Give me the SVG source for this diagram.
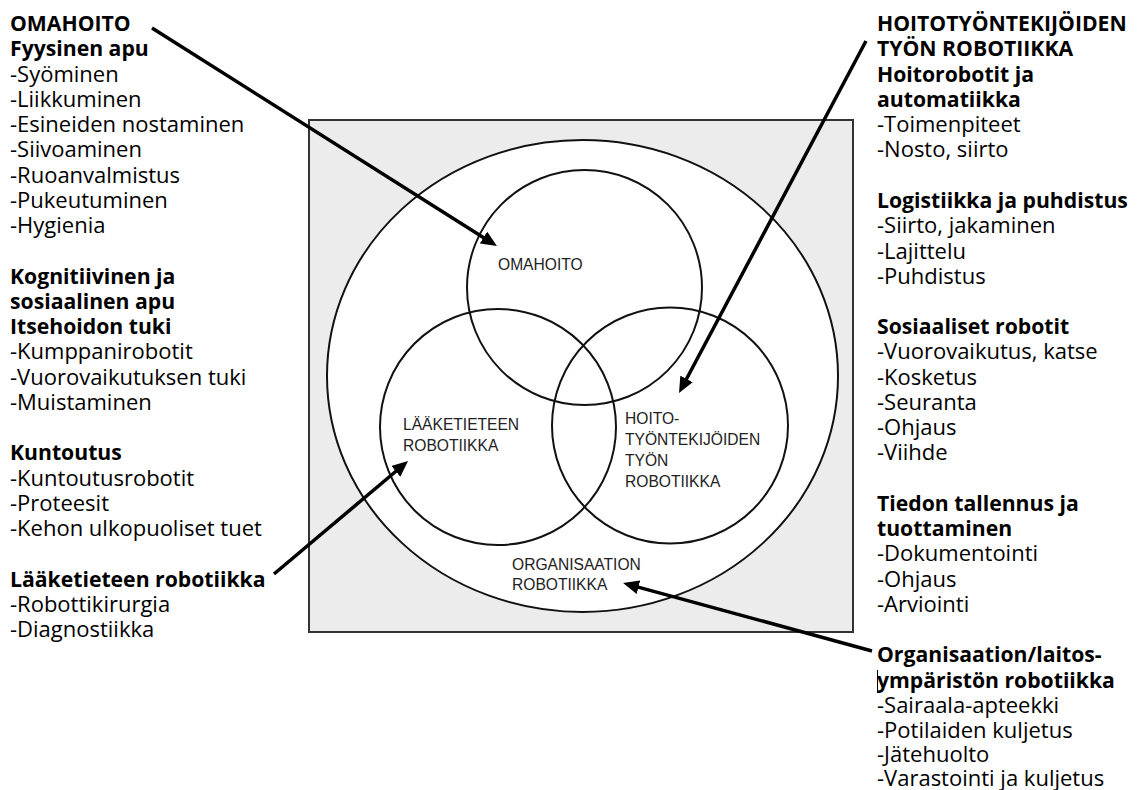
<svg xmlns="http://www.w3.org/2000/svg" width="1137" height="790" viewBox="0 0 1137 790">
<style>
.t{font-family:"Open Sans","Liberation Sans",sans-serif;font-size:22px;fill:#000}
.b{font-weight:bold;font-size:21.2px}
.in{font-family:"Liberation Sans",Arial,sans-serif;font-size:15.6px;fill:#222}
.c{fill:none;stroke:#111;stroke-width:2}
.a{fill:none;stroke:#000;stroke-width:3.5;marker-end:url(#ah)}
</style>
<defs>
<marker id="ah" markerUnits="userSpaceOnUse" markerWidth="18" markerHeight="14" refX="6" refY="7" orient="auto">
<path d="M0,0 L16,7 L0,14 z" fill="#000"/>
</marker>
</defs>
<rect width="1137" height="790" fill="#fff"/>
<g id="frame">
<rect x="309" y="120" width="544" height="512" fill="#ececec" stroke="#333" stroke-width="2"/>
</g>
<g id="organisaatio">
<ellipse cx="582.5" cy="376" rx="255.5" ry="236" fill="#fff" stroke="#111" stroke-width="2"/>
<text class="in" x="512" y="570">ORGANISAATION</text>
<text class="in" x="512" y="590">ROBOTIIKKA</text>
</g>
<g id="omahoito">
<circle class="c" cx="584.5" cy="287.5" r="117.5"/>
<text class="in" x="498" y="270">OMAHOITO</text>
</g>
<g id="laaketiede">
<circle class="c" cx="498" cy="427" r="118"/>
<text class="in" x="403" y="430">LÄÄKETIETEEN</text>
<text class="in" x="403" y="451">ROBOTIIKKA</text>
</g>
<g id="hoitotyo">
<circle class="c" cx="670" cy="425.5" r="118"/>
<text class="in" x="625" y="424">HOITO-</text>
<text class="in" x="625" y="445">TYÖNTEKIJÖIDEN</text>
<text class="in" x="625" y="466">TYÖN</text>
<text class="in" x="625" y="487">ROBOTIIKKA</text>
</g>
<g id="left-text">
<text class="t b" x="10" y="31">OMAHOITO</text>
<text class="t b" x="10" y="56">Fyysinen apu</text>
<text class="t" x="10" y="81.5">-Syöminen</text>
<text class="t" x="10" y="107">-Liikkuminen</text>
<text class="t" x="10" y="132">-Esineiden nostaminen</text>
<text class="t" x="10" y="157">-Siivoaminen</text>
<text class="t" x="10" y="182.5">-Ruoanvalmistus</text>
<text class="t" x="10" y="208">-Pukeutuminen</text>
<text class="t" x="10" y="233">-Hygienia</text>
<text class="t b" x="10" y="283.5">Kognitiivinen ja</text>
<text class="t b" x="10" y="309">sosiaalinen apu</text>
<text class="t b" x="10" y="334">Itsehoidon tuki</text>
<text class="t" x="10" y="359">-Kumppanirobotit</text>
<text class="t" x="10" y="384.5">-Vuorovaikutuksen tuki</text>
<text class="t" x="10" y="410">-Muistaminen</text>
<text class="t b" x="10" y="460">Kuntoutus</text>
<text class="t" x="10" y="485.5">-Kuntoutusrobotit</text>
<text class="t" x="10" y="511">-Proteesit</text>
<text class="t" x="10" y="536">-Kehon ulkopuoliset tuet</text>
<text class="t b" x="10" y="586.5">Lääketieteen robotiikka</text>
<text class="t" x="10" y="612">-Robottikirurgia</text>
<text class="t" x="10" y="637">-Diagnostiikka</text>
</g>
<g id="right-text">
<text class="t b" x="877" y="31">HOITOTYÖNTEKIJÖIDEN</text>
<text class="t b" x="877" y="56">TYÖN ROBOTIIKKA</text>
<text class="t b" x="877" y="81.5">Hoitorobotit ja</text>
<text class="t b" x="877" y="107">automatiikka</text>
<text class="t" x="877" y="132">-Toimenpiteet</text>
<text class="t" x="877" y="157">-Nosto, siirto</text>
<text class="t b" x="877" y="208">Logistiikka ja puhdistus</text>
<text class="t" x="877" y="233">-Siirto, jakaminen</text>
<text class="t" x="877" y="258.5">-Lajittelu</text>
<text class="t" x="877" y="283.5">-Puhdistus</text>
<text class="t b" x="877" y="334">Sosiaaliset robotit</text>
<text class="t" x="877" y="359">-Vuorovaikutus, katse</text>
<text class="t" x="877" y="384.5">-Kosketus</text>
<text class="t" x="877" y="410">-Seuranta</text>
<text class="t" x="877" y="435">-Ohjaus</text>
<text class="t" x="877" y="460">-Viihde</text>
<text class="t b" x="877" y="511">Tiedon tallennus ja</text>
<text class="t b" x="877" y="536">tuottaminen</text>
<text class="t" x="877" y="561">-Dokumentointi</text>
<text class="t" x="877" y="586.5">-Ohjaus</text>
<text class="t" x="877" y="612">-Arviointi</text>
<text class="t b" x="877" y="662">Organisaation/laitos-</text>
<text class="t b" x="877" y="687.5">ympäristön robotiikka</text>
<line x1="877.5" y1="670" x2="877.5" y2="693" stroke="#000" stroke-width="1"/>
<text class="t" x="877" y="712.5">-Sairaala-apteekki</text>
<text class="t" x="877" y="737.5">-Potilaiden kuljetus</text>
<text class="t" x="877" y="762">-Jätehuolto</text>
<text class="t" x="877" y="786">-Varastointi ja kuljetus</text>
</g>
<g id="connectors">
<line class="a" x1="152" y1="28" x2="488.5" y2="240.7"/>
<line class="a" x1="866" y1="41" x2="683.7" y2="384.2"/>
<line class="a" x1="274" y1="574" x2="400.4" y2="467.5"/>
<line class="a" x1="872" y1="651" x2="632.7" y2="585.6"/>
</g>
</svg>
